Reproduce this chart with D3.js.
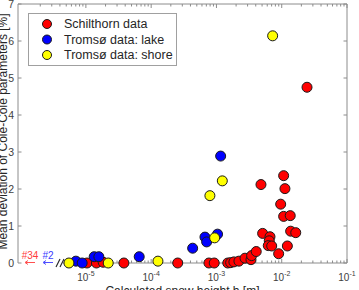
<!DOCTYPE html>
<html><head><meta charset="utf-8">
<script src="https://cdn.jsdelivr.net/npm/d3@7"></script>
<style>
html,body{margin:0;padding:0;background:#fff;}
svg{display:block;font-family:"Liberation Sans",Arial,Helvetica,sans-serif;}
</style></head>
<body>
<svg id="chart" width="359" height="290"></svg>
<script>
// ---- data ----
const seriesNames = ["Schilthorn data", "Tromsø data: lake", "Tromsø data: shore"];
const seriesColors = ["#ff0000", "#0000ff", "#ffff00"];

const schilthornH = [1.04e-5, 1.45e-5, 1.84e-5, 3.82e-5, 2.55e-4, 7.67e-4, 9.25e-4, 1.49e-3, 1.65e-3, 1.85e-3,
  2.21e-3, 2.74e-3, 3.38e-3, 3.46e-3, 4.07e-3, 4.81e-3, 5.10e-3, 6.61e-3, 6.44e-3, 6.22e-3,
  7.02e-3, 8.97e-3, 9.64e-3, 1.07e-2, 1.12e-2, 1.07e-2, 1.35e-2, 1.22e-2, 1.37e-2, 1.64e-2, 2.44e-2];
const schilthornDev = [0, 0, 0.02, 0, 0, 0, 0, 0, 0.01, 0.03,
  0.05, 0.13, 0.09, 0.20, 0.31, 2.12, 0.80, 0.71, 0.60, 0.47,
  0.46, 0.25, 1.59, 2.36, 2.01, 1.26, 1.28, 0.46, 0.86, 0.82, 4.75];

const lakeH = [7.03e-6, 8.77e-6, 1.34e-5, 1.58e-5, 6.56e-5, 4.32e-4, 6.67e-4, 7.08e-4, 1.04e-3, 1.16e-3];
const lakeDev = [0.05, 0, 0.17, 0.17, 0.17, 0.40, 0.70, 0.57, 0.78, 2.89];

const shoreH = [5.50e-6, 2.20e-5, 1.27e-4, 7.94e-4, 9.38e-4, 1.23e-3, 7.26e-3];
const shoreDev = [0, 0, 0.05, 1.82, 0.68, 2.22, 6.14];

const xTickExps = [-5, -4, -3, -2, -1];
const yTicks = [0, 1, 2, 3, 4, 5, 6, 7];
const xLabel = "Calculated snow height h [m]";
const yLabel = "Mean deviation of Cole-Cole parameters [%]";
const hiddenCounts = [{text: "#34", color: "#ff3b3b"}, {text: "#2", color: "#3b3bff"}];

// ---- layout ----
const L = 18, R = 347, T = 4, B = 263, breakX = 63;
const axisColor = "#8c8c8c", textColor = "#404040";

const svg = d3.select("#chart");
const x = d3.scaleLog().domain([Math.pow(10, -6.04), 0.1]).range([L, R]);
const y = d3.scaleLinear().domain([0, 7]).range([B, T]);

// minor ticks
const minor = [];
for (let e = -7; e <= -2; e++) for (let m = 2; m <= 9; m++) {
  const v = m * Math.pow(10, e);
  if (v > x.domain()[0] && v < 0.1) minor.push(v);
}
const major = xTickExps.map(e => Math.pow(10, e));

const g = svg.append("g");
// top axis line + ticks
g.append("line").attr("x1", L).attr("x2", R).attr("y1", T).attr("y2", T).attr("stroke", axisColor);
g.selectAll(".tmin").data(minor).enter().append("line")
  .attr("x1", d => x(d)).attr("x2", d => x(d)).attr("y1", T).attr("y2", T + 2.5).attr("stroke", axisColor);
g.selectAll(".tmaj").data(major).enter().append("line")
  .attr("x1", d => x(d)).attr("x2", d => x(d)).attr("y1", T).attr("y2", T + 4).attr("stroke", axisColor);
// bottom axis (after break)
g.append("line").attr("x1", breakX).attr("x2", R).attr("y1", B).attr("y2", B).attr("stroke", axisColor);
g.selectAll(".bmin").data(minor.filter(v => x(v) > breakX)).enter().append("line")
  .attr("x1", d => x(d)).attr("x2", d => x(d)).attr("y1", B).attr("y2", B - 2.5).attr("stroke", axisColor);
g.selectAll(".bmaj").data(major).enter().append("line")
  .attr("x1", d => x(d)).attr("x2", d => x(d)).attr("y1", B).attr("y2", B - 4).attr("stroke", axisColor);
// left & right axes
g.append("line").attr("x1", L).attr("x2", L).attr("y1", T).attr("y2", B).attr("stroke", axisColor);
g.append("line").attr("x1", R).attr("x2", R).attr("y1", T).attr("y2", B).attr("stroke", axisColor);
g.selectAll(".ly").data(yTicks).enter().append("line")
  .attr("x1", L).attr("x2", L + 3.5).attr("y1", d => y(d)).attr("y2", d => y(d)).attr("stroke", axisColor);
g.selectAll(".ry").data(yTicks).enter().append("line")
  .attr("x1", R).attr("x2", R - 3.5).attr("y1", d => y(d)).attr("y2", d => y(d)).attr("stroke", axisColor);

// y tick labels
g.selectAll(".yl").data(yTicks).enter().append("text")
  .attr("x", L - 4).attr("y", d => y(d)).attr("dy", "0.35em").attr("text-anchor", "end")
  .attr("font-size", 10.5).attr("fill", textColor).text(d => d);

// x tick labels
xTickExps.forEach(e => {
  const t = g.append("text").attr("x", x(Math.pow(10, e))).attr("y", 281)
    .attr("text-anchor", "middle").attr("font-size", 10).attr("fill", textColor);
  t.append("tspan").text("10");
  t.append("tspan").attr("dy", -5).attr("font-size", 7).text(String(e));
});

// axis labels
svg.append("text").attr("x", (L + R) / 2).attr("y", 295).attr("text-anchor", "middle")
  .attr("font-size", 12).attr("fill", "#262626").text(xLabel);
svg.append("text").attr("transform", `translate(7,${(T + B) / 2 - 2}) rotate(-90)`)
  .attr("text-anchor", "middle").attr("font-size", 12).attr("fill", "#262626").text(yLabel);

// break mark
[0, 4].forEach(dx => {
  g.append("line").attr("x1", breakX - 7 + dx).attr("y1", B + 4).attr("x2", breakX - 3 + dx).attr("y2", B - 4)
    .attr("stroke", "#222").attr("stroke-width", 1.1);
});

// hidden counts with arrows
const hcX = [30, 48];
hiddenCounts.forEach((h, i) => {
  svg.append("text").attr("x", hcX[i]).attr("y", 259).attr("text-anchor", "middle")
    .attr("font-size", 10).attr("fill", h.color).text(h.text);
  svg.append("line").attr("x1", hcX[i] - 4).attr("x2", hcX[i] + 5).attr("y1", 262.5).attr("y2", 262.5)
    .attr("stroke", h.color).attr("stroke-width", 0.9);
  svg.append("path").attr("d", `M${hcX[i] - 5},262.5 l3,-2 M${hcX[i] - 5},262.5 l3,2`)
    .attr("stroke", h.color).attr("stroke-width", 0.9).attr("fill", "none");
});

// points
const series = [
  {h: schilthornH, d: schilthornDev},
  {h: lakeH, d: lakeDev},
  {h: shoreH, d: shoreDev}
];
series.forEach((s, i) => {
  svg.append("g").selectAll("circle").data(s.h.map((v, k) => [v, s.d[k]])).enter().append("circle")
    .attr("cx", d => x(d[0])).attr("cy", d => y(d[1])).attr("r", 5)
    .attr("fill", seriesColors[i]).attr("stroke", "#1a1a1a").attr("stroke-width", 1);
});

// legend
const lg = svg.append("g");
lg.append("rect").attr("x", 28.5).attr("y", 13.5).attr("width", 148).attr("height", 52)
  .attr("fill", "#fff").attr("stroke", "#a0a0a0");
seriesNames.forEach((n, i) => {
  const yy = 24 + i * 15.5;
  lg.append("circle").attr("cx", 47).attr("cy", yy).attr("r", 4.5)
    .attr("fill", seriesColors[i]).attr("stroke", "#1a1a1a").attr("stroke-width", 1);
  lg.append("text").attr("x", 64).attr("y", yy).attr("dy", "0.35em")
    .attr("font-size", 12.5).attr("fill", "#262626").text(n);
});
</script>
</body></html>
